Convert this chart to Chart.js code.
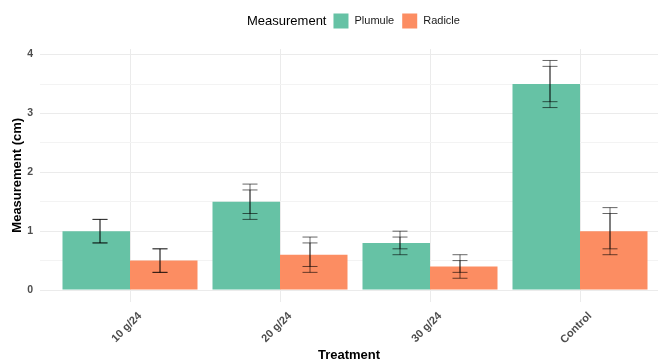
<!DOCTYPE html>
<html>
<head>
<meta charset="utf-8">
<script src="https://cdn.jsdelivr.net/npm/chart.js@4.4.0/dist/chart.umd.min.js"></script>
<style>
  html, body { margin: 0; padding: 0; background: #fff; }
</style>
</head>
<body>
<canvas id="chart" width="658" height="360"></canvas>
<script>
const treatments = ["10 g/24", "20 g/24", "30 g/24", "Control"];
const plumule = [1.0, 1.5, 0.8, 3.5];
const radicle = [0.5, 0.6, 0.4, 1.0];

// two error bar layers per bar (wide + narrow)
const plumuleLow = [0.8, 1.2, 0.6, 3.1];
const plumuleHigh = [1.2, 1.8, 1.0, 3.9];
const plumuleLow2 = [0.8, 1.3, 0.7, 3.2];
const plumuleHigh2 = [1.2, 1.7, 0.9, 3.8];
const radicleLow = [0.3, 0.3, 0.2, 0.6];
const radicleHigh = [0.7, 0.9, 0.6, 1.4];
const radicleLow2 = [0.3, 0.4, 0.3, 0.7];
const radicleHigh2 = [0.7, 0.8, 0.5, 1.3];

const yTicks = [0, 0.5, 1, 1.5, 2, 2.5, 3, 3.5, 4];

const errorSets = [
  [[plumuleLow, plumuleHigh], [plumuleLow2, plumuleHigh2]],
  [[radicleLow, radicleHigh], [radicleLow2, radicleHigh2]]
];

const FONT = "'Liberation Sans', Arial, sans-serif";

// error bars, dodged a bit narrower than the bars
const errorBars = {
  id: "errorBars",
  afterDatasetsDraw(chart) {
    const { ctx, scales: { x, y } } = chart;
    ctx.save();
    ctx.strokeStyle = "rgba(0,0,0,0.6)";
    ctx.lineWidth = 1;
    errorSets.forEach((sets, di) => {
      const shift = di === 0 ? -0.2 : 0.2;
      sets.forEach(([lo, hi]) => {
        lo.forEach((l, i) => {
          const c = i + 1 + shift;
          const cx = x.getPixelForValue(c);
          const x0 = x.getPixelForValue(c - 0.05);
          const x1 = x.getPixelForValue(c + 0.05);
          const yl = y.getPixelForValue(l);
          const yh = y.getPixelForValue(hi[i]);
          ctx.beginPath();
          ctx.moveTo(cx, yl); ctx.lineTo(cx, yh);
          ctx.moveTo(x0, yl); ctx.lineTo(x1, yl);
          ctx.moveTo(x0, yh); ctx.lineTo(x1, yh);
          ctx.stroke();
        });
      });
    });
    ctx.restore();
  }
};

// legend with inline title like ggplot
const legendBox = {
  id: "legendBox",
  afterDraw(chart) {
    const ctx = chart.ctx;
    ctx.save();
    ctx.textBaseline = "middle";
    ctx.font = "13px " + FONT;
    ctx.fillStyle = "#000";
    let xPos = 247;
    ctx.fillText("Measurement", xPos, 21);
    xPos += ctx.measureText("Measurement").width + 7;
    ctx.font = "11px " + FONT;
    chart.data.datasets.forEach(ds => {
      ctx.fillStyle = ds.backgroundColor;
      ctx.fillRect(xPos, 13.5, 15, 15);
      xPos += 15 + 6;
      ctx.fillStyle = "#1a1a1a";
      ctx.fillText(ds.label, xPos, 21);
      xPos += ctx.measureText(ds.label).width + 8;
    });
    ctx.restore();
  }
};

const ctx = document.getElementById("chart").getContext("2d");

new Chart(ctx, {
  type: "bar",
  data: {
    datasets: [
      {
        label: "Plumule",
        data: plumule.map((v, i) => ({ x: i + 1, y: v })),
        backgroundColor: "#66C2A5",
        borderWidth: 0
      },
      {
        label: "Radicle",
        data: radicle.map((v, i) => ({ x: i + 1, y: v })),
        backgroundColor: "#FC8D62",
        borderWidth: 0
      }
    ]
  },
  options: {
    responsive: false,
    animation: false,
    devicePixelRatio: 1,
    categoryPercentage: 0.9,
    barPercentage: 1.0,
    layout: { padding: { top: 49, right: 0, bottom: 0, left: 0 } },
    plugins: {
      legend: { display: false },
      tooltip: { enabled: false }
    },
    scales: {
      x: {
        type: "linear",
        min: 0.4,
        max: 4.52,
        offset: false,
        afterBuildTicks: axis => {
          axis.ticks = treatments.map((t, i) => ({ value: i + 1 }));
        },
        afterFit: axis => { axis.height = 58.5; },
        border: { display: false },
        grid: { color: "#ebebeb", drawTicks: false, offset: false },
        ticks: {
          callback: (v) => treatments[v - 1],
          minRotation: 45,
          maxRotation: 45,
          padding: 8,
          labelOffset: 10,
          color: "#4d4d4d",
          font: { family: FONT, size: 11, weight: "bold" }
        },
        title: {
          display: true,
          text: "Treatment",
          color: "#000",
          padding: 0,
          font: { family: FONT, size: 13, weight: "bold", lineHeight: 0.77 }
        }
      },
      y: {
        min: -0.195,
        max: 4.095,
        afterBuildTicks: axis => {
          axis.ticks = yTicks.map(v => ({ value: v }));
        },
        afterFit: axis => { axis.width = 40; },
        border: { display: false },
        grid: {
          color: c => (c.tick && c.tick.value % 1 === 0) ? "#ebebeb" : "#f3f3f3",
          drawTicks: false
        },
        ticks: {
          callback: v => (v % 1 === 0 ? v : ""),
          padding: 7,
          color: "#4d4d4d",
          font: { family: FONT, size: 10.5, weight: "bold" }
        },
        title: {
          display: true,
          text: "Measurement (cm)",
          color: "#000",
          padding: { top: 10, bottom: 0 },
          font: { family: FONT, size: 13, weight: "bold" }
        }
      }
    }
  },
  plugins: [errorBars, legendBox]
});
</script>
</body>
</html>
